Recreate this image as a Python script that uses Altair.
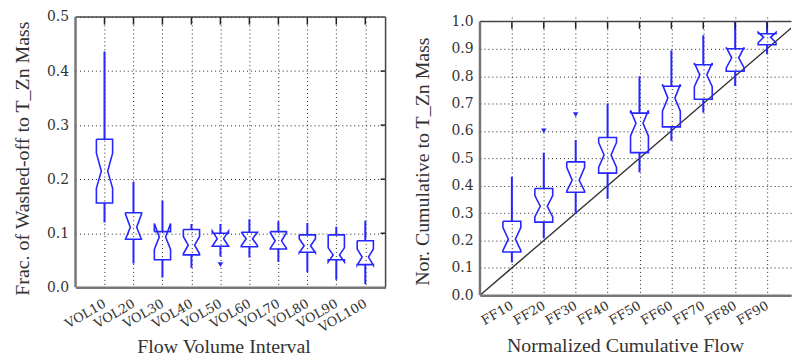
import json
import altair as alt
import pandas as pd

# ---------------- data ----------------
vol_labels = ["VOL10", "VOL20", "VOL30", "VOL40", "VOL50",
              "VOL60", "VOL70", "VOL80", "VOL90", "VOL100"]
vol_whi = [0.436, 0.195, 0.160, 0.117, 0.117, 0.126, 0.122, 0.119, 0.112, 0.123]
vol_q3  = [0.274, 0.138, 0.103, 0.107, 0.100, 0.102, 0.103, 0.097, 0.097, 0.086]
vol_nhi = [0.248, 0.136, 0.118, 0.094, 0.104, 0.102, 0.101, 0.090, 0.073, 0.071]
vol_med = [0.215, 0.111, 0.093, 0.078, 0.090, 0.090, 0.086, 0.077, 0.060, 0.056]
vol_nlo = [0.183, 0.088, 0.070, 0.062, 0.076, 0.077, 0.072, 0.064, 0.047, 0.041]
vol_q1  = [0.156, 0.089, 0.051, 0.060, 0.076, 0.075, 0.071, 0.065, 0.051, 0.042]
vol_wlo = [0.120, 0.044, 0.018, 0.036, 0.057, 0.055, 0.047, 0.028, 0.014, 0.006]
vol_out_label = ["VOL50"]
vol_out_value = [0.042]

ff_labels = ["FF10", "FF20", "FF30", "FF40", "FF50", "FF60", "FF70", "FF80", "FF90"]
ff_whi = [0.433, 0.520, 0.567, 0.700, 0.800, 0.894, 0.949, 0.998, 1.000]
ff_q3  = [0.270, 0.390, 0.487, 0.576, 0.665, 0.763, 0.842, 0.900, 0.955]
ff_nhi = [0.247, 0.364, 0.467, 0.558, 0.675, 0.770, 0.848, 0.905, 0.960]
ff_med = [0.205, 0.325, 0.420, 0.512, 0.628, 0.720, 0.805, 0.867, 0.942]
ff_nlo = [0.164, 0.286, 0.380, 0.467, 0.582, 0.672, 0.762, 0.830, 0.922]
ff_q1  = [0.158, 0.267, 0.376, 0.446, 0.521, 0.615, 0.716, 0.818, 0.915]
ff_wlo = [0.120, 0.208, 0.297, 0.352, 0.449, 0.564, 0.667, 0.764, 0.880]
ff_out_label = ["FF20", "FF30"]
ff_out_value = [0.600, 0.660]

vol_ticks = [0.0, 0.1, 0.2, 0.3, 0.4, 0.5]
ff_ticks = [0.0, 0.1, 0.2, 0.3, 0.4, 0.5, 0.6, 0.7, 0.8, 0.9, 1.0]
diag_x = [0.0, 1.0]
diag_y = [0.0, 1.0]

BLUE = "#2626ff"
TXT = "#333333"
SERIF = "Liberation Serif"
LABF = "DejaVu Serif"


def outline(positions, q1, nlo, med, nhi, q3, w, nw):
    rows = []
    for i, p in enumerate(positions):
        pts = [(p - w, q3[i]), (p + w, q3[i]), (p + w, nhi[i]), (p + nw, med[i]),
               (p + w, nlo[i]), (p + w, q1[i]), (p - w, q1[i]), (p - w, nlo[i]),
               (p - nw, med[i]), (p - w, nhi[i]), (p - w, q3[i])]
        for k, (x, y) in enumerate(pts):
            rows.append({"box": i, "ord": k, "x": x, "y": y})
    return pd.DataFrame(rows)


def panel(labels, positions, wlo, q1, nlo, med, nhi, q3, whi, out_lab, out_val,
          xdom, ydom, yticks, w, nw, xtitle, ytitle,
          title_x, title_y, ytitle_x, ytitle_y, tick_len_y, right_ticks, lab_pad):
    xscale = alt.Scale(domain=xdom, nice=False, zero=False)
    yscale = alt.Scale(domain=ydom, nice=False, zero=False)
    lab_expr = json.dumps(labels) + "[indexof(" + json.dumps(
        [round(v, 4) for v in positions]) + ", round(datum.value*10000)/10000)]"
    top = yticks[-1]

    xaxis = alt.Axis(values=positions, labelExpr=lab_expr, labelAngle=330,
                     labelAlign="right", labelBaseline="middle", labelFont=LABF,
                     labelFontSize=13, labelColor=TXT, labelPadding=lab_pad,
                     labelOverlap=False, labelFlush=False, labelBound=False,
                     tickSize=0, grid=True, gridDash=[1, 3], gridColor="#222222",
                     gridWidth=1, domainColor="#777777", domainWidth=2.5,
                     title=xtitle, titleFont=SERIF, titleFontSize=20,
                     titleFontWeight="normal", titleColor=TXT, titleX=title_x,
                     titleY=title_y, titleAlign="center", titleBaseline="alphabetic")
    yaxis = alt.Axis(values=yticks, format=".1f", labelFont=LABF, labelFontSize=14,
                     labelColor=TXT, labelPadding=7, tickSize=0, grid=True,
                     gridDash=[1, 3], gridColor="#222222", gridWidth=1,
                     domain=False, title=ytitle,
                     titleFont=SERIF, titleFontSize=20, titleFontWeight="normal",
                     titleColor=TXT, titleX=ytitle_x, titleY=ytitle_y, titleAngle=270,
                     titleAlign="center", titleBaseline="alphabetic")

    def X(f):
        return alt.X(f, scale=xscale, axis=xaxis, title=xtitle)

    def Y(f):
        return alt.Y(f, scale=yscale, axis=yaxis, title=ytitle)

    stats = pd.DataFrame({"pos": positions, "wlo": wlo, "q1": q1, "q3": q3, "whi": whi})
    poly = outline(positions, q1, nlo, med, nhi, q3, w, nw)
    outs = pd.DataFrame({"pos": [positions[labels.index(l)] for l in out_lab],
                         "v": out_val})

    boxes = alt.Chart(poly).mark_line(color=BLUE, strokeWidth=1.6, clip=True).encode(
        x=X("x:Q"), y=Y("y:Q"), detail="box:N", order="ord:Q")
    wl = alt.Chart(stats).mark_rule(color=BLUE, strokeWidth=2).encode(
        x=X("pos:Q"), y=Y("wlo:Q"), y2="q1:Q")
    wh = alt.Chart(stats).mark_rule(color=BLUE, strokeWidth=2, clip=True).encode(
        x=X("pos:Q"), y=Y("q3:Q"), y2="whi:Q")
    op = alt.Chart(outs).mark_point(shape="triangle-down", filled=True, color=BLUE,
                                    size=30, opacity=1).encode(
        x=X("pos:Q"), y=Y("v:Q"))

    tt = pd.DataFrame({"pos": positions, "y1": [top] * len(positions),
                       "y2": [top - tick_len_y] * len(positions)})
    top_ticks = alt.Chart(tt).mark_rule(color="#222222", strokeWidth=1.5).encode(
        x=X("pos:Q"), y=Y("y1:Q"), y2="y2:Q")
    top_line = alt.Chart(pd.DataFrame({"y": [top]})).mark_rule(
        color="#444444", strokeWidth=1.5).encode(y=Y("y:Q"))
    left_line = alt.Chart(pd.DataFrame({"x": [xdom[0]], "y1": [0.0], "y2": [top]})).mark_rule(
        color="#777777", strokeWidth=2.5).encode(x=X("x:Q"), y=Y("y1:Q"), y2="y2:Q")

    layers = [boxes, wl, wh, op, top_ticks, top_line, left_line]
    if right_ticks:
        rt = pd.DataFrame({"y": yticks[1:-1], "x1": [xdom[1]] * (len(yticks) - 2),
                           "x2": [xdom[1] - right_ticks] * (len(yticks) - 2)})
        layers.append(alt.Chart(rt).mark_rule(color="#222222", strokeWidth=1.5).encode(
            x=X("x1:Q"), x2="x2:Q", y=Y("y:Q")))
        layers.append(alt.Chart(pd.DataFrame({"x": [xdom[1]]})).mark_rule(
            color="#444444", strokeWidth=1.5).encode(x=X("x:Q")))
    return layers, X, Y


left_layers, _, _ = panel(
    vol_labels, [float(i + 1) for i in range(10)], vol_wlo, vol_q1, vol_nlo, vol_med,
    vol_nhi, vol_q3, vol_whi, vol_out_label, vol_out_value,
    [0.0, 10.7], [0.0, 0.5], vol_ticks, 0.28, 0.11,
    "Flow Volume Interval", "Frac. of Washed-off to T_Zn Mass",
    149, 66, -47, 142, 0.014, 0.17, 15)
left = alt.layer(*left_layers).properties(
    width=312, height=272,
    view=alt.ViewBackground(stroke="transparent"))

ff_pos = [round((i + 1) / 10, 1) for i in range(9)]
right_layers, RX, RY = panel(
    ff_labels, ff_pos, ff_wlo, ff_q1, ff_nlo, ff_med, ff_nhi, ff_q3, ff_whi,
    ff_out_label, ff_out_value,
    [0.0, 0.975], [0.0, 1.016], ff_ticks, 0.028, 0.011,
    "Normalized Cumulative Flow", "Nor. Cumulative to T_Zn Mass",
    146, 57, -52, 145, 0.027, 0, 9)
diag = alt.Chart(pd.DataFrame({"x": diag_x, "y": diag_y})).mark_line(
    color="#333333", strokeWidth=1.4, clip=True).encode(x=RX("x:Q"), y=RY("y:Q"))
right = alt.layer(diag, *right_layers).properties(
    width=313, height=280,
    view=alt.ViewBackground(stroke="transparent"))

chart = alt.hconcat(left, right, spacing=24).properties(
    padding={"left": 12, "top": 8, "right": 0, "bottom": 0},
    background="white")

chart.save("out.html", embed_options={"renderer": "svg", "actions": False})
